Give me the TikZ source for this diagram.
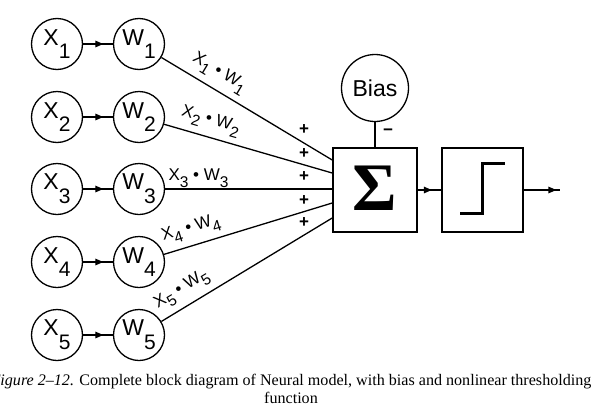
\documentclass[tikz,border=0pt]{standalone}
\usepackage{fontspec}
\setmainfont{Liberation Sans}
\newfontfamily\capfont{Liberation Serif}
\usetikzlibrary{arrows.meta,decorations.markings}
\tikzset{
  neuron/.style={circle, draw, line width=1.3pt, minimum size=51pt, inner sep=0pt, font=\fontsize{23}{23}\selectfont},
  block/.style={rectangle, draw, line width=1.6pt, minimum width=84pt, minimum height=84pt, inner sep=0pt},
  wire/.style={line width=1.3pt},
  midarrow/.style={postaction={decorate}, decoration={markings, mark=at position #1 with {\arrow{Triangle[length=8pt,width=6.5pt]}}}},
  prodlabel/.style={font=\fontsize{17}{17}\selectfont, inner sep=1pt, sloped, above},
  sign/.style={font=\fontsize{17}{17}\selectfont\bfseries, inner sep=0pt},
  captext/.style={font=\capfont\fontsize{16.1}{18}\selectfont, inner sep=0pt, anchor=base},
}
\newcommand{\sbx}[2]{#1\raisebox{-0.6em}{\fontsize{21}{21}\selectfont #2}}
\newcommand{\sbl}[2]{#1\raisebox{-0.38em}{\fontsize{15.5}{15.5}\selectfont #2}}
\begin{document}
\begin{tikzpicture}[x=1pt, y=-1pt]
\useasboundingbox (0,0) rectangle (593,407);
\foreach \i/\yy in {1/44, 2/117, 3/189, 4/262, 5/335} {
  \node[neuron] (X\i) at (57,\yy) {\sbx{X}{\i}};
  \node[neuron] (W\i) at (139,\yy) {\sbx{W}{\i}};
  \draw[wire, midarrow=0.68] (X\i) -- (W\i);
}
\node[block] (sum) at (375,190) {};
\node[font=\capfont\bfseries\fontsize{68}{68}\selectfont, inner sep=0pt] (sigma) at (375,188) {Σ};
\node[block, minimum width=81pt] (step) at (482.5,190) {};
\node[neuron, minimum size=67pt] (bias) at (375,88) {Bias};
\coordinate (e1) at ([yshift=30pt]sum.west);
\coordinate (e2) at ([yshift=17pt]sum.west);
\coordinate (e4) at ([yshift=-13pt]sum.west);
\coordinate (e5) at ([yshift=-28pt]sum.west);
\coordinate (out) at (560,190);
\draw[wire] (W1) -- node[prodlabel, pos=0.29, yshift=5pt] (l1) {\sbl{X}{1} • \sbl{W}{1}} (e1);
\draw[wire] (W2) -- node[prodlabel, pos=0.25, yshift=5pt] (l2) {\sbl{X}{2} • \sbl{W}{2}} (e2);
\draw[wire] (W3) -- node[prodlabel, pos=0.20, yshift=0pt] (l3) {\sbl{X}{3} • \sbl{W}{3}} (W3 -| sum.west);
\draw[wire] (W4) -- node[prodlabel, pos=0.19, yshift=5pt] (l4) {\sbl{X}{4} • \sbl{W}{4}} (e4);
\draw[wire] (W5) -- node[prodlabel, pos=0.17, yshift=5pt] (l5) {\sbl{X}{5} • \sbl{W}{5}} (e5);
\foreach \yy [count=\k] in {130,154,177,201,223} {
  \node[sign] (p\k) at (304,\yy) {+};
}
\node[sign] (minus) at (388,132) {−};
\draw[wire] (bias) -- (sum);
\draw[wire, midarrow=0.6] (sum) -- (step);
\draw[wire, midarrow=0.9] (step) -- (out);
\draw[line width=3pt] ([xshift=-22.5pt,yshift=-23pt]step.center) -| ([yshift=27pt]step.center) -- ++(22.5,0);
\node[captext] (cap1) at (291,385)
  {\textit{Figure 2–12.} Complete block diagram of Neural model, with bias and nonlinear thresholding};
\node[captext] (cap2) at (291,403) {function};
\end{tikzpicture}
\end{document}
